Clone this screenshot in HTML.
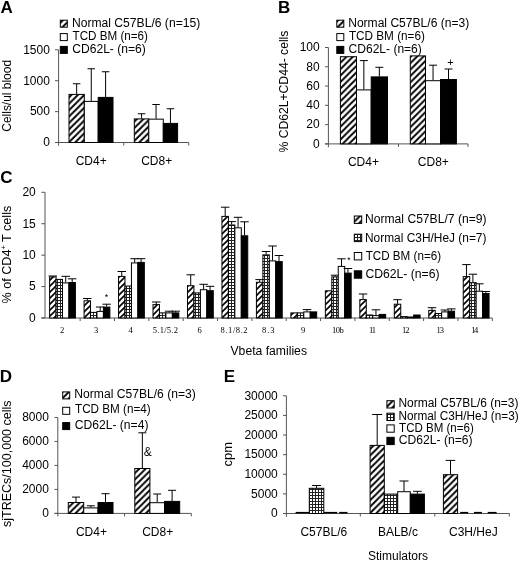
<!DOCTYPE html>
<html><head><meta charset="utf-8"><style>
html,body{margin:0;padding:0;background:#fff;}
svg{display:block;will-change:transform;}
text{fill:#000;}
</style></head><body>
<svg width="520" height="561" viewBox="0 0 520 561">
<defs>
<pattern id="hatch" patternUnits="userSpaceOnUse" width="6.4" height="6.4">
<rect width="6.4" height="6.4" fill="#fff"/>
<path d="M-1.6,1.6 L1.6,-1.6 M0,6.4 L6.4,0 M4.8,8 L8,4.8" stroke="#000" stroke-width="1.9"/>
</pattern>
<pattern id="hatchc" patternUnits="userSpaceOnUse" width="6" height="6">
<rect width="6" height="6" fill="#fff"/>
<path d="M-1.5,1.5 L1.5,-1.5 M0,6 L6,0 M4.5,7.5 L7.5,4.5" stroke="#000" stroke-width="1.6"/>
</pattern>
<pattern id="grid" patternUnits="userSpaceOnUse" width="3" height="3">
<rect width="3" height="3" fill="#fff"/>
<rect x="0" y="0" width="3" height="1" fill="#222"/>
<rect x="0" y="0" width="1" height="3" fill="#222"/>
</pattern>
<pattern id="gridc" patternUnits="userSpaceOnUse" width="3" height="3">
<rect width="3" height="3" fill="#fff"/>
<rect x="0" y="0" width="3" height="1" fill="#222"/>
<rect x="0" y="0" width="1" height="3" fill="#222"/>
</pattern>
</defs>
<rect width="520" height="561" fill="#fff"/>
<text x="0.50" y="13.30" font-size="17" font-weight="bold" font-family='"Liberation Sans", sans-serif'>A</text>
<line x1="58.6" y1="49.8" x2="58.6" y2="145.8" stroke="#555" stroke-width="1"/>
<line x1="55" y1="142.5" x2="188.75" y2="142.5" stroke="#555" stroke-width="1"/>
<line x1="55" y1="49.8" x2="58.6" y2="49.8" stroke="#555" stroke-width="1"/>
<text x="23.20" y="53.60" font-size="12" font-family='"Liberation Sans", sans-serif'>1500</text>
<line x1="55" y1="80.7" x2="58.6" y2="80.7" stroke="#555" stroke-width="1"/>
<text x="23.20" y="84.50" font-size="12" font-family='"Liberation Sans", sans-serif'>1000</text>
<line x1="55" y1="111.6" x2="58.6" y2="111.6" stroke="#555" stroke-width="1"/>
<text x="29.90" y="115.40" font-size="12" font-family='"Liberation Sans", sans-serif'>500</text>
<line x1="55" y1="142.5" x2="58.6" y2="142.5" stroke="#555" stroke-width="1"/>
<text x="43.20" y="146.30" font-size="12" font-family='"Liberation Sans", sans-serif'>0</text>
<line x1="123.75" y1="142.5" x2="123.75" y2="145.5" stroke="#555" stroke-width="1"/>
<line x1="188.75" y1="142.5" x2="188.75" y2="145.5" stroke="#555" stroke-width="1"/>
<line x1="76.65" y1="83.75" x2="76.65" y2="94" stroke="#000" stroke-width="1"/>
<line x1="72.9" y1="83.75" x2="80.4" y2="83.75" stroke="#000" stroke-width="1"/>
<rect x="69.00" y="94.40" width="15.30" height="48.10" fill="url(#hatch)" stroke="#000" stroke-width="1"/>
<line x1="91.25" y1="68.75" x2="91.25" y2="101" stroke="#000" stroke-width="1"/>
<line x1="87.5" y1="68.75" x2="95.0" y2="68.75" stroke="#000" stroke-width="1"/>
<rect x="84.30" y="101.40" width="13.90" height="41.10" fill="#fff" stroke="#000" stroke-width="1"/>
<line x1="105.60000000000001" y1="71.75" x2="105.60000000000001" y2="97" stroke="#000" stroke-width="1"/>
<line x1="101.85000000000001" y1="71.75" x2="109.35000000000001" y2="71.75" stroke="#000" stroke-width="1"/>
<rect x="98.20" y="97.40" width="14.80" height="45.10" fill="#000" stroke="#000" stroke-width="1"/>
<line x1="141.55" y1="113.75" x2="141.55" y2="118.5" stroke="#000" stroke-width="1"/>
<line x1="137.8" y1="113.75" x2="145.3" y2="113.75" stroke="#000" stroke-width="1"/>
<rect x="134.30" y="118.90" width="14.50" height="23.60" fill="url(#hatch)" stroke="#000" stroke-width="1"/>
<line x1="156.05" y1="104.5" x2="156.05" y2="118.75" stroke="#000" stroke-width="1"/>
<line x1="152.3" y1="104.5" x2="159.8" y2="104.5" stroke="#000" stroke-width="1"/>
<rect x="148.80" y="119.15" width="14.50" height="23.35" fill="#fff" stroke="#000" stroke-width="1"/>
<line x1="170.45000000000002" y1="108.75" x2="170.45000000000002" y2="123" stroke="#000" stroke-width="1"/>
<line x1="166.70000000000002" y1="108.75" x2="174.20000000000002" y2="108.75" stroke="#000" stroke-width="1"/>
<rect x="163.30" y="123.40" width="14.30" height="19.10" fill="#000" stroke="#000" stroke-width="1"/>
<rect x="60.30" y="20.20" width="7.00" height="7.00" fill="url(#hatch)" stroke="#000" stroke-width="1"/>
<text x="71.90" y="26.50" font-size="12" font-family='"Liberation Sans", sans-serif' textLength="128.36" lengthAdjust="spacingAndGlyphs">Normal C57BL/6 (n=15)</text>
<rect x="60.30" y="33.60" width="7.00" height="7.00" fill="#fff" stroke="#000" stroke-width="1"/>
<text x="72.60" y="39.90" font-size="12" font-family='"Liberation Sans", sans-serif' textLength="75.38" lengthAdjust="spacingAndGlyphs">TCD BM (n=6)</text>
<rect x="60.30" y="46.40" width="7.00" height="7.00" fill="#000" stroke="#000" stroke-width="1"/>
<text x="72.30" y="52.70" font-size="12" font-family='"Liberation Sans", sans-serif' textLength="73.43" lengthAdjust="spacingAndGlyphs">CD62L- (n=6)</text>
<text x="75.70" y="164.60" font-size="12" font-family='"Liberation Sans", sans-serif'>CD4+</text>
<text x="141.15" y="164.60" font-size="12" font-family='"Liberation Sans", sans-serif'>CD8+</text>
<text transform="translate(11.20,95.90) rotate(-90)" x="-35.80" y="0" font-size="12" font-family='"Liberation Sans", sans-serif' textLength="71.74" lengthAdjust="spacingAndGlyphs">Cells/ul blood</text>
<text x="277.90" y="13.30" font-size="17" font-weight="bold" font-family='"Liberation Sans", sans-serif'>B</text>
<line x1="328.4" y1="47.5" x2="328.4" y2="147.20000000000002" stroke="#555" stroke-width="1"/>
<line x1="325" y1="143.9" x2="468" y2="143.9" stroke="#555" stroke-width="1"/>
<line x1="325" y1="47.5" x2="328.4" y2="47.5" stroke="#555" stroke-width="1"/>
<text x="299.70" y="51.30" font-size="12" font-family='"Liberation Sans", sans-serif'>100</text>
<line x1="325" y1="66.78" x2="328.4" y2="66.78" stroke="#555" stroke-width="1"/>
<text x="306.30" y="70.58" font-size="12" font-family='"Liberation Sans", sans-serif'>80</text>
<line x1="325" y1="86.06" x2="328.4" y2="86.06" stroke="#555" stroke-width="1"/>
<text x="306.30" y="89.86" font-size="12" font-family='"Liberation Sans", sans-serif'>60</text>
<line x1="325" y1="105.34" x2="328.4" y2="105.34" stroke="#555" stroke-width="1"/>
<text x="306.30" y="109.14" font-size="12" font-family='"Liberation Sans", sans-serif'>40</text>
<line x1="325" y1="124.62" x2="328.4" y2="124.62" stroke="#555" stroke-width="1"/>
<text x="306.30" y="128.42" font-size="12" font-family='"Liberation Sans", sans-serif'>20</text>
<line x1="325" y1="143.9" x2="328.4" y2="143.9" stroke="#555" stroke-width="1"/>
<text x="313.00" y="147.70" font-size="12" font-family='"Liberation Sans", sans-serif'>0</text>
<line x1="398.5" y1="143.9" x2="398.5" y2="146.9" stroke="#555" stroke-width="1"/>
<line x1="468" y1="143.9" x2="468" y2="146.9" stroke="#555" stroke-width="1"/>
<rect x="340.40" y="56.70" width="16.10" height="87.20" fill="url(#hatch)" stroke="#000" stroke-width="1"/>
<line x1="363.85" y1="60.6" x2="363.85" y2="89.5" stroke="#000" stroke-width="1"/>
<line x1="359.85" y1="60.6" x2="367.85" y2="60.6" stroke="#000" stroke-width="1"/>
<rect x="356.50" y="89.90" width="14.70" height="54.00" fill="#fff" stroke="#000" stroke-width="1"/>
<line x1="379.34999999999997" y1="67.3" x2="379.34999999999997" y2="76.5" stroke="#000" stroke-width="1"/>
<line x1="375.34999999999997" y1="67.3" x2="383.34999999999997" y2="67.3" stroke="#000" stroke-width="1"/>
<rect x="371.20" y="76.90" width="16.30" height="67.00" fill="#000" stroke="#000" stroke-width="1"/>
<rect x="410.30" y="55.90" width="15.20" height="88.00" fill="url(#hatch)" stroke="#000" stroke-width="1"/>
<line x1="433.05" y1="65.2" x2="433.05" y2="80.3" stroke="#000" stroke-width="1"/>
<line x1="429.05" y1="65.2" x2="437.05" y2="65.2" stroke="#000" stroke-width="1"/>
<rect x="425.50" y="80.70" width="15.10" height="63.20" fill="#fff" stroke="#000" stroke-width="1"/>
<line x1="448.5" y1="69" x2="448.5" y2="79.1" stroke="#000" stroke-width="1"/>
<line x1="444.5" y1="69" x2="452.5" y2="69" stroke="#000" stroke-width="1"/>
<rect x="440.60" y="79.50" width="15.80" height="64.40" fill="#000" stroke="#000" stroke-width="1"/>
<text x="447.30" y="66.40" font-size="11" font-family='"Liberation Sans", sans-serif'>+</text>
<rect x="336.80" y="20.20" width="7.00" height="7.00" fill="url(#hatch)" stroke="#000" stroke-width="1"/>
<text x="348.20" y="26.50" font-size="12" font-family='"Liberation Sans", sans-serif' textLength="120.99" lengthAdjust="spacingAndGlyphs">Normal C57BL/6 (n=3)</text>
<rect x="336.80" y="33.60" width="7.00" height="7.00" fill="#fff" stroke="#000" stroke-width="1"/>
<text x="348.90" y="39.90" font-size="12" font-family='"Liberation Sans", sans-serif' textLength="75.98" lengthAdjust="spacingAndGlyphs">TCD BM (n=6)</text>
<rect x="336.80" y="46.40" width="7.00" height="7.00" fill="#000" stroke="#000" stroke-width="1"/>
<text x="348.60" y="52.70" font-size="12" font-family='"Liberation Sans", sans-serif' textLength="73.23" lengthAdjust="spacingAndGlyphs">CD62L- (n=6)</text>
<text x="347.90" y="165.50" font-size="12" font-family='"Liberation Sans", sans-serif'>CD4+</text>
<text x="417.80" y="165.50" font-size="12" font-family='"Liberation Sans", sans-serif'>CD8+</text>
<text transform="translate(287.60,91.55) rotate(-90)" x="-60.95" y="0" font-size="12" font-family='"Liberation Sans", sans-serif' textLength="121.88" lengthAdjust="spacingAndGlyphs">% CD62L+CD44- cells</text>
<text x="0.20" y="182.50" font-size="17" font-weight="bold" font-family='"Liberation Sans", sans-serif'>C</text>
<line x1="45.0" y1="192.3" x2="45.0" y2="318" stroke="#555" stroke-width="1"/>
<line x1="41.3" y1="318" x2="492.3" y2="318" stroke="#555" stroke-width="1"/>
<line x1="41.3" y1="192.3" x2="45.0" y2="192.3" stroke="#555" stroke-width="1"/>
<text x="22.40" y="196.10" font-size="12" font-family='"Liberation Sans", sans-serif'>20</text>
<line x1="41.3" y1="223.72500000000002" x2="45.0" y2="223.72500000000002" stroke="#555" stroke-width="1"/>
<text x="22.40" y="227.53" font-size="12" font-family='"Liberation Sans", sans-serif'>15</text>
<line x1="41.3" y1="255.15" x2="45.0" y2="255.15" stroke="#555" stroke-width="1"/>
<text x="22.40" y="258.95" font-size="12" font-family='"Liberation Sans", sans-serif'>10</text>
<line x1="41.3" y1="286.575" x2="45.0" y2="286.575" stroke="#555" stroke-width="1"/>
<text x="29.10" y="290.38" font-size="12" font-family='"Liberation Sans", sans-serif'>5</text>
<line x1="41.3" y1="318.0" x2="45.0" y2="318.0" stroke="#555" stroke-width="1"/>
<text x="29.10" y="321.80" font-size="12" font-family='"Liberation Sans", sans-serif'>0</text>
<line x1="80.14615384615385" y1="318" x2="80.14615384615385" y2="321" stroke="#555" stroke-width="1"/>
<line x1="114.49230769230769" y1="318" x2="114.49230769230769" y2="321" stroke="#555" stroke-width="1"/>
<line x1="148.83846153846156" y1="318" x2="148.83846153846156" y2="321" stroke="#555" stroke-width="1"/>
<line x1="183.18461538461537" y1="318" x2="183.18461538461537" y2="321" stroke="#555" stroke-width="1"/>
<line x1="217.53076923076924" y1="318" x2="217.53076923076924" y2="321" stroke="#555" stroke-width="1"/>
<line x1="251.8769230769231" y1="318" x2="251.8769230769231" y2="321" stroke="#555" stroke-width="1"/>
<line x1="286.2230769230769" y1="318" x2="286.2230769230769" y2="321" stroke="#555" stroke-width="1"/>
<line x1="320.5692307692308" y1="318" x2="320.5692307692308" y2="321" stroke="#555" stroke-width="1"/>
<line x1="354.91538461538465" y1="318" x2="354.91538461538465" y2="321" stroke="#555" stroke-width="1"/>
<line x1="389.26153846153846" y1="318" x2="389.26153846153846" y2="321" stroke="#555" stroke-width="1"/>
<line x1="423.60769230769233" y1="318" x2="423.60769230769233" y2="321" stroke="#555" stroke-width="1"/>
<line x1="457.9538461538462" y1="318" x2="457.9538461538462" y2="321" stroke="#555" stroke-width="1"/>
<line x1="492.3" y1="318" x2="492.3" y2="321" stroke="#555" stroke-width="1"/>
<line x1="52.825" y1="276.0" x2="52.825" y2="276.5" stroke="#000" stroke-width="1"/>
<line x1="48.575" y1="276.0" x2="57.075" y2="276.0" stroke="#000" stroke-width="1"/>
<rect x="49.60" y="276.90" width="6.45" height="41.10" fill="url(#hatchc)" stroke="#000" stroke-width="1"/>
<rect x="56.05" y="279.40" width="6.45" height="38.60" fill="url(#gridc)" stroke="#000" stroke-width="1"/>
<line x1="65.725" y1="276.3" x2="65.725" y2="282.5" stroke="#000" stroke-width="1"/>
<line x1="61.474999999999994" y1="276.3" x2="69.975" y2="276.3" stroke="#000" stroke-width="1"/>
<rect x="62.50" y="282.90" width="6.45" height="35.10" fill="#fff" stroke="#000" stroke-width="1"/>
<line x1="72.175" y1="278.8" x2="72.175" y2="282.1" stroke="#000" stroke-width="1"/>
<line x1="67.925" y1="278.8" x2="76.425" y2="278.8" stroke="#000" stroke-width="1"/>
<rect x="68.95" y="282.50" width="6.45" height="35.50" fill="#000" stroke="#000" stroke-width="1"/>
<line x1="87.29499999999999" y1="298.5" x2="87.29499999999999" y2="300.4" stroke="#000" stroke-width="1"/>
<line x1="83.04499999999999" y1="298.5" x2="91.54499999999999" y2="298.5" stroke="#000" stroke-width="1"/>
<rect x="84.07" y="300.80" width="6.45" height="17.20" fill="url(#hatchc)" stroke="#000" stroke-width="1"/>
<rect x="90.52" y="312.40" width="6.45" height="5.60" fill="url(#gridc)" stroke="#000" stroke-width="1"/>
<line x1="100.195" y1="307.0" x2="100.195" y2="311.0" stroke="#000" stroke-width="1"/>
<line x1="95.945" y1="307.0" x2="104.445" y2="307.0" stroke="#000" stroke-width="1"/>
<rect x="96.97" y="311.40" width="6.45" height="6.60" fill="#fff" stroke="#000" stroke-width="1"/>
<line x1="106.64499999999998" y1="304.2" x2="106.64499999999998" y2="306.7" stroke="#000" stroke-width="1"/>
<line x1="102.39499999999998" y1="304.2" x2="110.89499999999998" y2="304.2" stroke="#000" stroke-width="1"/>
<rect x="103.42" y="307.10" width="6.45" height="10.90" fill="#000" stroke="#000" stroke-width="1"/>
<line x1="121.76499999999999" y1="271.5" x2="121.76499999999999" y2="276.0" stroke="#000" stroke-width="1"/>
<line x1="117.51499999999999" y1="271.5" x2="126.01499999999999" y2="271.5" stroke="#000" stroke-width="1"/>
<rect x="118.54" y="276.40" width="6.45" height="41.60" fill="url(#hatchc)" stroke="#000" stroke-width="1"/>
<rect x="124.99" y="286.00" width="6.45" height="32.00" fill="url(#gridc)" stroke="#000" stroke-width="1"/>
<line x1="134.665" y1="258.7" x2="134.665" y2="262.5" stroke="#000" stroke-width="1"/>
<line x1="130.415" y1="258.7" x2="138.915" y2="258.7" stroke="#000" stroke-width="1"/>
<rect x="131.44" y="262.90" width="6.45" height="55.10" fill="#fff" stroke="#000" stroke-width="1"/>
<line x1="141.11499999999998" y1="258.7" x2="141.11499999999998" y2="262.0" stroke="#000" stroke-width="1"/>
<line x1="136.86499999999998" y1="258.7" x2="145.36499999999998" y2="258.7" stroke="#000" stroke-width="1"/>
<rect x="137.89" y="262.40" width="6.45" height="55.60" fill="#000" stroke="#000" stroke-width="1"/>
<line x1="156.23499999999999" y1="302.0" x2="156.23499999999999" y2="304.2" stroke="#000" stroke-width="1"/>
<line x1="151.98499999999999" y1="302.0" x2="160.48499999999999" y2="302.0" stroke="#000" stroke-width="1"/>
<rect x="153.01" y="304.60" width="6.45" height="13.40" fill="url(#hatchc)" stroke="#000" stroke-width="1"/>
<rect x="159.46" y="312.90" width="6.45" height="5.10" fill="url(#gridc)" stroke="#000" stroke-width="1"/>
<line x1="169.135" y1="311.2" x2="169.135" y2="312.5" stroke="#000" stroke-width="1"/>
<line x1="164.885" y1="311.2" x2="173.385" y2="311.2" stroke="#000" stroke-width="1"/>
<rect x="165.91" y="312.90" width="6.45" height="5.10" fill="#fff" stroke="#000" stroke-width="1"/>
<line x1="175.58499999999998" y1="311.2" x2="175.58499999999998" y2="312.5" stroke="#000" stroke-width="1"/>
<line x1="171.33499999999998" y1="311.2" x2="179.83499999999998" y2="311.2" stroke="#000" stroke-width="1"/>
<rect x="172.36" y="312.90" width="6.45" height="5.10" fill="#000" stroke="#000" stroke-width="1"/>
<line x1="190.70499999999998" y1="274.8" x2="190.70499999999998" y2="285.3" stroke="#000" stroke-width="1"/>
<line x1="186.45499999999998" y1="274.8" x2="194.95499999999998" y2="274.8" stroke="#000" stroke-width="1"/>
<rect x="187.48" y="285.70" width="6.45" height="32.30" fill="url(#hatchc)" stroke="#000" stroke-width="1"/>
<rect x="193.93" y="292.90" width="6.45" height="25.10" fill="url(#gridc)" stroke="#000" stroke-width="1"/>
<line x1="203.605" y1="284.3" x2="203.605" y2="289.3" stroke="#000" stroke-width="1"/>
<line x1="199.355" y1="284.3" x2="207.855" y2="284.3" stroke="#000" stroke-width="1"/>
<rect x="200.38" y="289.70" width="6.45" height="28.30" fill="#fff" stroke="#000" stroke-width="1"/>
<line x1="210.05499999999998" y1="286.3" x2="210.05499999999998" y2="290.3" stroke="#000" stroke-width="1"/>
<line x1="205.80499999999998" y1="286.3" x2="214.30499999999998" y2="286.3" stroke="#000" stroke-width="1"/>
<rect x="206.83" y="290.70" width="6.45" height="27.30" fill="#000" stroke="#000" stroke-width="1"/>
<line x1="225.17499999999998" y1="207.2" x2="225.17499999999998" y2="216.0" stroke="#000" stroke-width="1"/>
<line x1="220.92499999999998" y1="207.2" x2="229.42499999999998" y2="207.2" stroke="#000" stroke-width="1"/>
<rect x="221.95" y="216.40" width="6.45" height="101.60" fill="url(#hatchc)" stroke="#000" stroke-width="1"/>
<line x1="231.62499999999997" y1="221.6" x2="231.62499999999997" y2="224.6" stroke="#000" stroke-width="1"/>
<line x1="227.37499999999997" y1="221.6" x2="235.87499999999997" y2="221.6" stroke="#000" stroke-width="1"/>
<rect x="228.40" y="225.00" width="6.45" height="93.00" fill="url(#gridc)" stroke="#000" stroke-width="1"/>
<line x1="238.075" y1="217.3" x2="238.075" y2="227.4" stroke="#000" stroke-width="1"/>
<line x1="233.825" y1="217.3" x2="242.325" y2="217.3" stroke="#000" stroke-width="1"/>
<rect x="234.85" y="227.80" width="6.45" height="90.20" fill="#fff" stroke="#000" stroke-width="1"/>
<line x1="244.52499999999998" y1="221.8" x2="244.52499999999998" y2="235.4" stroke="#000" stroke-width="1"/>
<line x1="240.27499999999998" y1="221.8" x2="248.77499999999998" y2="221.8" stroke="#000" stroke-width="1"/>
<rect x="241.30" y="235.80" width="6.45" height="82.20" fill="#000" stroke="#000" stroke-width="1"/>
<line x1="259.64500000000004" y1="279.6" x2="259.64500000000004" y2="281.9" stroke="#000" stroke-width="1"/>
<line x1="255.39500000000004" y1="279.6" x2="263.89500000000004" y2="279.6" stroke="#000" stroke-width="1"/>
<rect x="256.42" y="282.30" width="6.45" height="35.70" fill="url(#hatchc)" stroke="#000" stroke-width="1"/>
<line x1="266.095" y1="251.5" x2="266.095" y2="254.5" stroke="#000" stroke-width="1"/>
<line x1="261.845" y1="251.5" x2="270.345" y2="251.5" stroke="#000" stroke-width="1"/>
<rect x="262.87" y="254.90" width="6.45" height="63.10" fill="url(#gridc)" stroke="#000" stroke-width="1"/>
<line x1="272.545" y1="246.0" x2="272.545" y2="260.5" stroke="#000" stroke-width="1"/>
<line x1="268.295" y1="246.0" x2="276.795" y2="246.0" stroke="#000" stroke-width="1"/>
<rect x="269.32" y="260.90" width="6.45" height="57.10" fill="#fff" stroke="#000" stroke-width="1"/>
<line x1="278.99500000000006" y1="255.5" x2="278.99500000000006" y2="261.2" stroke="#000" stroke-width="1"/>
<line x1="274.74500000000006" y1="255.5" x2="283.24500000000006" y2="255.5" stroke="#000" stroke-width="1"/>
<rect x="275.77" y="261.60" width="6.45" height="56.40" fill="#000" stroke="#000" stroke-width="1"/>
<rect x="290.89" y="312.90" width="6.45" height="5.10" fill="url(#hatchc)" stroke="#000" stroke-width="1"/>
<rect x="297.34" y="312.90" width="6.45" height="5.10" fill="url(#gridc)" stroke="#000" stroke-width="1"/>
<line x1="307.015" y1="309.6" x2="307.015" y2="311.5" stroke="#000" stroke-width="1"/>
<line x1="302.765" y1="309.6" x2="311.265" y2="309.6" stroke="#000" stroke-width="1"/>
<rect x="303.79" y="311.90" width="6.45" height="6.10" fill="#fff" stroke="#000" stroke-width="1"/>
<rect x="310.24" y="311.90" width="6.45" height="6.10" fill="#000" stroke="#000" stroke-width="1"/>
<rect x="325.36" y="290.80" width="6.45" height="27.20" fill="url(#hatchc)" stroke="#000" stroke-width="1"/>
<line x1="335.035" y1="275.2" x2="335.035" y2="276.5" stroke="#000" stroke-width="1"/>
<line x1="330.785" y1="275.2" x2="339.285" y2="275.2" stroke="#000" stroke-width="1"/>
<rect x="331.81" y="276.90" width="6.45" height="41.10" fill="url(#gridc)" stroke="#000" stroke-width="1"/>
<line x1="341.485" y1="258.8" x2="341.485" y2="266.0" stroke="#000" stroke-width="1"/>
<line x1="337.235" y1="258.8" x2="345.735" y2="258.8" stroke="#000" stroke-width="1"/>
<rect x="338.26" y="266.40" width="6.45" height="51.60" fill="#fff" stroke="#000" stroke-width="1"/>
<line x1="347.93500000000006" y1="268.5" x2="347.93500000000006" y2="272.7" stroke="#000" stroke-width="1"/>
<line x1="343.68500000000006" y1="268.5" x2="352.18500000000006" y2="268.5" stroke="#000" stroke-width="1"/>
<rect x="344.71" y="273.10" width="6.45" height="44.90" fill="#000" stroke="#000" stroke-width="1"/>
<line x1="363.05500000000006" y1="294.0" x2="363.05500000000006" y2="299.2" stroke="#000" stroke-width="1"/>
<line x1="358.80500000000006" y1="294.0" x2="367.30500000000006" y2="294.0" stroke="#000" stroke-width="1"/>
<rect x="359.83" y="299.60" width="6.45" height="18.40" fill="url(#hatchc)" stroke="#000" stroke-width="1"/>
<rect x="366.28" y="315.00" width="6.45" height="3.00" fill="url(#gridc)" stroke="#000" stroke-width="1"/>
<line x1="375.95500000000004" y1="309.8" x2="375.95500000000004" y2="315.2" stroke="#000" stroke-width="1"/>
<line x1="371.70500000000004" y1="309.8" x2="380.20500000000004" y2="309.8" stroke="#000" stroke-width="1"/>
<rect x="372.73" y="315.60" width="6.45" height="2.40" fill="#fff" stroke="#000" stroke-width="1"/>
<rect x="379.18" y="314.40" width="6.45" height="3.60" fill="#000" stroke="#000" stroke-width="1"/>
<line x1="397.52500000000003" y1="299.7" x2="397.52500000000003" y2="303.8" stroke="#000" stroke-width="1"/>
<line x1="393.27500000000003" y1="299.7" x2="401.77500000000003" y2="299.7" stroke="#000" stroke-width="1"/>
<rect x="394.30" y="304.20" width="6.45" height="13.80" fill="url(#hatchc)" stroke="#000" stroke-width="1"/>
<rect x="400.75" y="316.60" width="6.45" height="1.40" fill="url(#gridc)" stroke="#000" stroke-width="1"/>
<rect x="407.20" y="317.00" width="6.45" height="1.00" fill="#fff" stroke="#000" stroke-width="1"/>
<rect x="413.65" y="315.00" width="6.45" height="3.00" fill="#000" stroke="#000" stroke-width="1"/>
<line x1="431.995" y1="307.7" x2="431.995" y2="310.0" stroke="#000" stroke-width="1"/>
<line x1="427.745" y1="307.7" x2="436.245" y2="307.7" stroke="#000" stroke-width="1"/>
<rect x="428.77" y="310.40" width="6.45" height="7.60" fill="url(#hatchc)" stroke="#000" stroke-width="1"/>
<rect x="435.22" y="313.50" width="6.45" height="4.50" fill="url(#gridc)" stroke="#000" stroke-width="1"/>
<line x1="444.895" y1="310.0" x2="444.895" y2="311.5" stroke="#000" stroke-width="1"/>
<line x1="440.645" y1="310.0" x2="449.145" y2="310.0" stroke="#000" stroke-width="1"/>
<rect x="441.67" y="311.90" width="6.45" height="6.10" fill="#fff" stroke="#000" stroke-width="1"/>
<line x1="451.345" y1="308.9" x2="451.345" y2="310.8" stroke="#000" stroke-width="1"/>
<line x1="447.095" y1="308.9" x2="455.595" y2="308.9" stroke="#000" stroke-width="1"/>
<rect x="448.12" y="311.20" width="6.45" height="6.80" fill="#000" stroke="#000" stroke-width="1"/>
<line x1="466.46500000000003" y1="264.6" x2="466.46500000000003" y2="276.2" stroke="#000" stroke-width="1"/>
<line x1="462.21500000000003" y1="264.6" x2="470.71500000000003" y2="264.6" stroke="#000" stroke-width="1"/>
<rect x="463.24" y="276.60" width="6.45" height="41.40" fill="url(#hatchc)" stroke="#000" stroke-width="1"/>
<line x1="472.915" y1="274.2" x2="472.915" y2="282.3" stroke="#000" stroke-width="1"/>
<line x1="468.665" y1="274.2" x2="477.165" y2="274.2" stroke="#000" stroke-width="1"/>
<rect x="469.69" y="282.70" width="6.45" height="35.30" fill="url(#gridc)" stroke="#000" stroke-width="1"/>
<line x1="479.365" y1="283.8" x2="479.365" y2="290.8" stroke="#000" stroke-width="1"/>
<line x1="475.115" y1="283.8" x2="483.615" y2="283.8" stroke="#000" stroke-width="1"/>
<rect x="476.14" y="291.20" width="6.45" height="26.80" fill="#fff" stroke="#000" stroke-width="1"/>
<line x1="485.81500000000005" y1="291.5" x2="485.81500000000005" y2="293.1" stroke="#000" stroke-width="1"/>
<line x1="481.56500000000005" y1="291.5" x2="490.06500000000005" y2="291.5" stroke="#000" stroke-width="1"/>
<rect x="482.59" y="293.50" width="6.45" height="24.50" fill="#000" stroke="#000" stroke-width="1"/>
<text x="60.00" y="333.40" font-size="8.5" font-family='"Liberation Serif", serif'>2</text>
<text x="94.00" y="333.40" font-size="8.5" font-family='"Liberation Serif", serif'>3</text>
<text x="128.40" y="333.40" font-size="8.5" font-family='"Liberation Serif", serif'>4</text>
<text x="152.70" y="333.4" font-size="8.5" font-family='"Liberation Serif", serif' textLength="25.31" lengthAdjust="spacing">5.1/5.2</text>
<text x="197.55" y="333.40" font-size="8.5" font-family='"Liberation Serif", serif'>6</text>
<text x="220.60" y="333.4" font-size="8.5" font-family='"Liberation Serif", serif' textLength="27.01" lengthAdjust="spacing">8.1/8.2</text>
<text x="262.00" y="333.4" font-size="8.5" font-family='"Liberation Serif", serif' textLength="12.52" lengthAdjust="spacing">8.3</text>
<text x="301.05" y="333.40" font-size="8.5" font-family='"Liberation Serif", serif'>9</text>
<text x="332.10" y="333.4" font-size="8.5" font-family='"Liberation Serif", serif' textLength="11.70" lengthAdjust="spacing">10b</text>
<text x="369.10" y="333.4" font-size="8.5" font-family='"Liberation Serif", serif' textLength="6.78" lengthAdjust="spacing">11</text>
<text x="402.00" y="333.4" font-size="8.5" font-family='"Liberation Serif", serif' textLength="7.40" lengthAdjust="spacing">12</text>
<text x="436.60" y="333.4" font-size="8.5" font-family='"Liberation Serif", serif' textLength="7.50" lengthAdjust="spacing">13</text>
<text x="471.30" y="333.4" font-size="8.5" font-family='"Liberation Serif", serif' textLength="7.00" lengthAdjust="spacing">14</text>
<text x="104.85" y="300.20" font-size="9" font-family='"Liberation Sans", sans-serif'>*</text>
<text x="347.35" y="263.40" font-size="8.5" font-family='"Liberation Sans", sans-serif'>*</text>
<rect x="354.30" y="216.00" width="7.40" height="7.40" fill="url(#hatch)" stroke="#000" stroke-width="1"/>
<text x="365.00" y="223.30" font-size="12" font-family='"Liberation Sans", sans-serif' textLength="121.49" lengthAdjust="spacingAndGlyphs">Normal C57BL/7 (n=9)</text>
<rect x="354.30" y="234.20" width="7.40" height="7.40" fill="url(#grid)" stroke="#000" stroke-width="1"/>
<text x="365.00" y="241.50" font-size="12" font-family='"Liberation Sans", sans-serif' textLength="121.47" lengthAdjust="spacingAndGlyphs">Normal C3H/HeJ (n=7)</text>
<rect x="354.30" y="252.50" width="7.40" height="7.40" fill="#fff" stroke="#000" stroke-width="1"/>
<text x="365.70" y="259.80" font-size="12" font-family='"Liberation Sans", sans-serif' textLength="75.38" lengthAdjust="spacingAndGlyphs">TCD BM (n=6)</text>
<rect x="354.30" y="270.80" width="7.40" height="7.40" fill="#000" stroke="#000" stroke-width="1"/>
<text x="365.40" y="278.10" font-size="12" font-family='"Liberation Sans", sans-serif' textLength="74.13" lengthAdjust="spacingAndGlyphs">CD62L- (n=6)</text>
<text x="230.50" y="354.60" font-size="12" font-family='"Liberation Sans", sans-serif' textLength="76.47" lengthAdjust="spacingAndGlyphs">Vbeta families</text>
<text transform="translate(11.2,254.6) rotate(-90)" text-anchor="middle" font-size="12" textLength="97.8" lengthAdjust="spacingAndGlyphs" font-family='"Liberation Sans", sans-serif'>% of CD4<tspan font-size="7" dy="-5">+</tspan><tspan dy="5"> T cells</tspan></text>
<text x="-0.20" y="382.30" font-size="17" font-weight="bold" font-family='"Liberation Sans", sans-serif'>D</text>
<line x1="57.8" y1="417.5" x2="57.8" y2="516.4" stroke="#555" stroke-width="1"/>
<line x1="54.5" y1="513.4" x2="191.3" y2="513.4" stroke="#555" stroke-width="1"/>
<line x1="54.5" y1="417.5" x2="57.8" y2="417.5" stroke="#555" stroke-width="1"/>
<text x="22.20" y="421.30" font-size="12" font-family='"Liberation Sans", sans-serif'>8000</text>
<line x1="54.5" y1="441.475" x2="57.8" y2="441.475" stroke="#555" stroke-width="1"/>
<text x="22.20" y="445.28" font-size="12" font-family='"Liberation Sans", sans-serif'>6000</text>
<line x1="54.5" y1="465.45" x2="57.8" y2="465.45" stroke="#555" stroke-width="1"/>
<text x="22.20" y="469.25" font-size="12" font-family='"Liberation Sans", sans-serif'>4000</text>
<line x1="54.5" y1="489.42499999999995" x2="57.8" y2="489.42499999999995" stroke="#555" stroke-width="1"/>
<text x="22.20" y="493.22" font-size="12" font-family='"Liberation Sans", sans-serif'>2000</text>
<line x1="54.5" y1="513.4" x2="57.8" y2="513.4" stroke="#555" stroke-width="1"/>
<text x="42.20" y="517.20" font-size="12" font-family='"Liberation Sans", sans-serif'>0</text>
<line x1="124.5" y1="513.4" x2="124.5" y2="516.4" stroke="#555" stroke-width="1"/>
<line x1="191.3" y1="513.4" x2="191.3" y2="516.4" stroke="#555" stroke-width="1"/>
<line x1="76.0" y1="497.1" x2="76.0" y2="502.1" stroke="#000" stroke-width="1"/>
<line x1="72.0" y1="497.1" x2="80.0" y2="497.1" stroke="#000" stroke-width="1"/>
<rect x="68.30" y="502.50" width="15.40" height="10.90" fill="url(#hatch)" stroke="#000" stroke-width="1"/>
<line x1="90.85000000000001" y1="505.8" x2="90.85000000000001" y2="507.5" stroke="#000" stroke-width="1"/>
<line x1="86.85000000000001" y1="505.8" x2="94.85000000000001" y2="505.8" stroke="#000" stroke-width="1"/>
<rect x="83.70" y="507.90" width="14.30" height="5.50" fill="#fff" stroke="#000" stroke-width="1"/>
<line x1="105.5" y1="493.7" x2="105.5" y2="502.1" stroke="#000" stroke-width="1"/>
<line x1="101.5" y1="493.7" x2="109.5" y2="493.7" stroke="#000" stroke-width="1"/>
<rect x="98.00" y="502.50" width="15.00" height="10.90" fill="#000" stroke="#000" stroke-width="1"/>
<line x1="142.35000000000002" y1="432.8" x2="142.35000000000002" y2="468.1" stroke="#000" stroke-width="1"/>
<line x1="138.35000000000002" y1="432.8" x2="146.35000000000002" y2="432.8" stroke="#000" stroke-width="1"/>
<rect x="134.80" y="468.50" width="15.10" height="44.90" fill="url(#hatch)" stroke="#000" stroke-width="1"/>
<line x1="157.20000000000002" y1="494.0" x2="157.20000000000002" y2="502.3" stroke="#000" stroke-width="1"/>
<line x1="153.20000000000002" y1="494.0" x2="161.20000000000002" y2="494.0" stroke="#000" stroke-width="1"/>
<rect x="149.90" y="502.70" width="14.60" height="10.70" fill="#fff" stroke="#000" stroke-width="1"/>
<line x1="172.1" y1="490.3" x2="172.1" y2="501.0" stroke="#000" stroke-width="1"/>
<line x1="168.1" y1="490.3" x2="176.1" y2="490.3" stroke="#000" stroke-width="1"/>
<rect x="164.50" y="501.40" width="15.20" height="12.00" fill="#000" stroke="#000" stroke-width="1"/>
<text x="143.80" y="455.60" font-size="12" font-family='"Liberation Sans", sans-serif'>&amp;</text>
<rect x="62.70" y="391.90" width="7.00" height="7.00" fill="url(#hatch)" stroke="#000" stroke-width="1"/>
<text x="74.30" y="397.80" font-size="12" font-family='"Liberation Sans", sans-serif' textLength="121.49" lengthAdjust="spacingAndGlyphs">Normal C57BL/6 (n=3)</text>
<rect x="62.70" y="407.30" width="7.00" height="7.00" fill="#fff" stroke="#000" stroke-width="1"/>
<text x="75.00" y="413.20" font-size="12" font-family='"Liberation Sans", sans-serif' textLength="75.68" lengthAdjust="spacingAndGlyphs">TCD BM (n=4)</text>
<rect x="62.70" y="422.60" width="7.00" height="7.00" fill="#000" stroke="#000" stroke-width="1"/>
<text x="74.70" y="428.50" font-size="12" font-family='"Liberation Sans", sans-serif' textLength="73.73" lengthAdjust="spacingAndGlyphs">CD62L- (n=4)</text>
<text x="75.90" y="535.50" font-size="12" font-family='"Liberation Sans", sans-serif'>CD4+</text>
<text x="142.20" y="535.50" font-size="12" font-family='"Liberation Sans", sans-serif'>CD8+</text>
<text transform="translate(10.90,463.75) rotate(-90)" x="-63.25" y="0" font-size="12" font-family='"Liberation Sans", sans-serif' textLength="126.58" lengthAdjust="spacingAndGlyphs">sjTRECs/100,000 cells</text>
<text x="223.70" y="382.30" font-size="17" font-weight="bold" font-family='"Liberation Sans", sans-serif'>E</text>
<line x1="286.4" y1="395.8" x2="286.4" y2="516.8" stroke="#555" stroke-width="1"/>
<line x1="283" y1="513.5" x2="509.3" y2="513.5" stroke="#555" stroke-width="1"/>
<line x1="283" y1="395.8" x2="286.4" y2="395.8" stroke="#555" stroke-width="1"/>
<text x="244.40" y="399.60" font-size="12" font-family='"Liberation Sans", sans-serif'>30000</text>
<line x1="283" y1="415.4166666666667" x2="286.4" y2="415.4166666666667" stroke="#555" stroke-width="1"/>
<text x="244.40" y="419.22" font-size="12" font-family='"Liberation Sans", sans-serif'>25000</text>
<line x1="283" y1="435.03333333333336" x2="286.4" y2="435.03333333333336" stroke="#555" stroke-width="1"/>
<text x="244.40" y="438.83" font-size="12" font-family='"Liberation Sans", sans-serif'>20000</text>
<line x1="283" y1="454.65" x2="286.4" y2="454.65" stroke="#555" stroke-width="1"/>
<text x="244.40" y="458.45" font-size="12" font-family='"Liberation Sans", sans-serif'>15000</text>
<line x1="283" y1="474.26666666666665" x2="286.4" y2="474.26666666666665" stroke="#555" stroke-width="1"/>
<text x="244.40" y="478.07" font-size="12" font-family='"Liberation Sans", sans-serif'>10000</text>
<line x1="283" y1="493.8833333333333" x2="286.4" y2="493.8833333333333" stroke="#555" stroke-width="1"/>
<text x="251.10" y="497.68" font-size="12" font-family='"Liberation Sans", sans-serif'>5000</text>
<line x1="283" y1="513.5" x2="286.4" y2="513.5" stroke="#555" stroke-width="1"/>
<text x="271.10" y="517.30" font-size="12" font-family='"Liberation Sans", sans-serif'>0</text>
<line x1="360.3" y1="513.5" x2="360.3" y2="516.5" stroke="#555" stroke-width="1"/>
<line x1="434.8" y1="513.5" x2="434.8" y2="516.5" stroke="#555" stroke-width="1"/>
<line x1="509.3" y1="513.5" x2="509.3" y2="516.5" stroke="#555" stroke-width="1"/>
<line x1="316.55" y1="485.5" x2="316.55" y2="487.9" stroke="#000" stroke-width="1"/>
<line x1="312.05" y1="485.5" x2="321.05" y2="485.5" stroke="#000" stroke-width="1"/>
<rect x="309.30" y="488.30" width="14.50" height="25.20" fill="url(#grid)" stroke="#000" stroke-width="1"/>
<line x1="377.20000000000005" y1="414.5" x2="377.20000000000005" y2="445.0" stroke="#000" stroke-width="1"/>
<line x1="372.20000000000005" y1="414.5" x2="382.20000000000005" y2="414.5" stroke="#000" stroke-width="1"/>
<rect x="370.10" y="445.40" width="14.20" height="68.10" fill="url(#hatch)" stroke="#000" stroke-width="1"/>
<rect x="384.30" y="494.10" width="13.40" height="19.40" fill="url(#grid)" stroke="#000" stroke-width="1"/>
<line x1="404.0" y1="481.0" x2="404.0" y2="491.3" stroke="#000" stroke-width="1"/>
<line x1="399.5" y1="481.0" x2="408.5" y2="481.0" stroke="#000" stroke-width="1"/>
<rect x="397.70" y="491.70" width="12.60" height="21.80" fill="#fff" stroke="#000" stroke-width="1"/>
<line x1="417.35" y1="491.3" x2="417.35" y2="493.7" stroke="#000" stroke-width="1"/>
<line x1="413.0" y1="491.3" x2="421.70000000000005" y2="491.3" stroke="#000" stroke-width="1"/>
<rect x="410.30" y="494.10" width="14.10" height="19.40" fill="#000" stroke="#000" stroke-width="1"/>
<line x1="450.5" y1="460.4" x2="450.5" y2="474.3" stroke="#000" stroke-width="1"/>
<line x1="445.7" y1="460.4" x2="455.3" y2="460.4" stroke="#000" stroke-width="1"/>
<rect x="443.40" y="474.70" width="14.20" height="38.80" fill="url(#hatch)" stroke="#000" stroke-width="1"/>
<rect x="295.6" y="511.90" width="13.80" height="1.6" fill="#000"/>
<rect x="323.8" y="511.90" width="13.50" height="1.6" fill="#000"/>
<rect x="339.2" y="511.90" width="8.30" height="1.6" fill="#000"/>
<rect x="460.2" y="511.90" width="8.00" height="1.6" fill="#000"/>
<rect x="473.9" y="511.90" width="8.00" height="1.6" fill="#000"/>
<rect x="487.7" y="511.90" width="8.90" height="1.6" fill="#000"/>
<rect x="386.90" y="400.70" width="7.30" height="7.30" fill="url(#hatch)" stroke="#000" stroke-width="1"/>
<text x="398.40" y="407.30" font-size="12" font-family='"Liberation Sans", sans-serif' textLength="120.09" lengthAdjust="spacingAndGlyphs">Normal C57BL/6 (n=3)</text>
<rect x="386.90" y="413.20" width="7.30" height="7.30" fill="url(#grid)" stroke="#000" stroke-width="1"/>
<text x="398.40" y="419.80" font-size="12" font-family='"Liberation Sans", sans-serif' textLength="120.37" lengthAdjust="spacingAndGlyphs">Normal C3H/HeJ (n=3)</text>
<rect x="386.90" y="424.90" width="7.30" height="7.30" fill="#fff" stroke="#000" stroke-width="1"/>
<text x="399.10" y="431.50" font-size="12" font-family='"Liberation Sans", sans-serif' textLength="74.68" lengthAdjust="spacingAndGlyphs">TCD BM (n=6)</text>
<rect x="386.90" y="437.30" width="7.30" height="7.30" fill="#000" stroke="#000" stroke-width="1"/>
<text x="398.80" y="443.90" font-size="12" font-family='"Liberation Sans", sans-serif' textLength="73.83" lengthAdjust="spacingAndGlyphs">CD62L- (n=6)</text>
<text x="300.45" y="535.90" font-size="12" font-family='"Liberation Sans", sans-serif'>C57BL/6</text>
<text x="377.95" y="535.90" font-size="12" font-family='"Liberation Sans", sans-serif'>BALB/c</text>
<text x="449.00" y="535.90" font-size="12" font-family='"Liberation Sans", sans-serif'>C3H/HeJ</text>
<text x="368.00" y="559.80" font-size="12" font-family='"Liberation Sans", sans-serif'>Stimulators</text>
<text transform="translate(231.60,454.45) rotate(-90)" x="-12.05" y="0" font-size="12" font-family='"Liberation Sans", sans-serif' textLength="24.37" lengthAdjust="spacingAndGlyphs">cpm</text>
</svg>
</body></html>
